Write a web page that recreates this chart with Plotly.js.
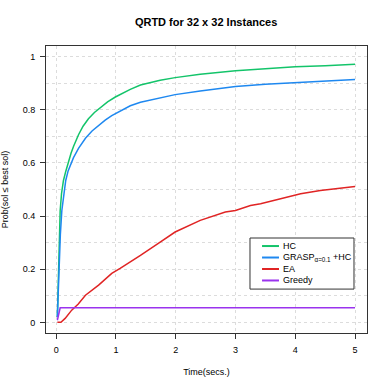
<!DOCTYPE html>
<html>
<head>
<meta charset="utf-8">
<script src="https://cdn.plot.ly/plotly-3.0.1.min.js"></script>
<style>html,body{margin:0;padding:0;background:#fff;}#chart{width:390px;height:390px;}</style>
</head>
<body>
<div id="chart"></div>
<script>
// Data
var seriesNames = ["HC", "GRASP<sub>α=0.1</sub> +HC", "EA", "Greedy"];
var seriesColors = ["#13c46a", "#1e88f0", "#e02424", "#9a33ee"];

var hcX = [0.02, 0.03, 0.04, 0.055, 0.067, 0.09, 0.122, 0.16, 0.206, 0.25, 0.29, 0.374, 0.45, 0.54, 0.64, 0.737, 0.86, 0.99, 1.07, 1.156, 1.24, 1.41, 1.74, 1.99, 2.41, 3.0, 3.5, 4.0, 4.5, 5.0];
var hcY = [0.02, 0.12, 0.234, 0.34, 0.421, 0.485, 0.534, 0.568, 0.605, 0.637, 0.662, 0.706, 0.738, 0.766, 0.79, 0.809, 0.83, 0.848, 0.858, 0.868, 0.877, 0.893, 0.911, 0.921, 0.934, 0.947, 0.955, 0.962, 0.966, 0.971];

var graspX = [0.02, 0.035, 0.05, 0.07, 0.095, 0.13, 0.16, 0.2, 0.263, 0.29, 0.374, 0.49, 0.6, 0.71, 0.82, 0.93, 1.07, 1.156, 1.24, 1.41, 1.74, 1.99, 2.41, 3.0, 3.5, 4.0, 4.5, 5.0];
var graspY = [0.02, 0.12, 0.234, 0.33, 0.421, 0.49, 0.534, 0.57, 0.605, 0.62, 0.655, 0.693, 0.72, 0.742, 0.761, 0.778, 0.796, 0.805, 0.815, 0.828, 0.846, 0.857, 0.871, 0.888, 0.896, 0.902, 0.908, 0.914];

var eaX = [0.02, 0.08, 0.15, 0.26, 0.37, 0.49, 0.71, 0.93, 1.07, 1.156, 1.41, 1.74, 1.99, 2.41, 2.83, 3.0, 3.25, 3.42, 3.75, 4.09, 4.42, 4.76, 5.0];
var eaY = [0, 0, 0.015, 0.046, 0.069, 0.102, 0.14, 0.184, 0.203, 0.215, 0.252, 0.302, 0.34, 0.384, 0.415, 0.421, 0.44, 0.446, 0.465, 0.484, 0.496, 0.506, 0.511];

var greedyX = [0.02, 0.067, 0.1, 5.0];
var greedyY = [0.008, 0.055, 0.055, 0.055];

var xTicks = [0, 1, 2, 3, 4, 5];
var yTicks = [0, 0.2, 0.4, 0.6, 0.8, 1];
var yTickLabels = ["0", "0.2", "0.4", "0.6", "0.8", "1"];

var xs = [hcX, graspX, eaX, greedyX];
var ys = [hcY, graspY, eaY, greedyY];

var traces = xs.map(function (x, i) {
  return {
    x: x, y: ys[i], type: "scatter", mode: "lines",
    name: seriesNames[i], showlegend: false,
    line: {color: seriesColors[i], width: 1.5}
  };
});

var font = "Liberation Sans, Arial, Helvetica, sans-serif";

// Manual R-style legend (compact rows)
var legX0 = 0.6355, legX1 = 0.9595, legY0 = 0.153, legY1 = 0.331;
var rowTop = 0.303, rowStep = 0.040;
var shapes = [{
  type: "rect", xref: "paper", yref: "paper",
  x0: legX0, x1: legX1, y0: legY0, y1: legY1,
  line: {color: "#333333", width: 1}, fillcolor: "#ffffff", layer: "above"
}];
var annotations = [];
seriesNames.forEach(function (n, i) {
  var yy = rowTop - i * rowStep;
  shapes.push({
    type: "line", xref: "paper", yref: "paper",
    x0: 0.673, x1: 0.7258, y0: yy, y1: yy,
    line: {color: seriesColors[i], width: 2}, layer: "above"
  });
  annotations.push({
    xref: "paper", yref: "paper", x: 0.732, y: yy,
    xanchor: "left", yanchor: "middle", showarrow: false,
    text: n, font: {family: font, size: 9, color: "#000"}
  });
});

var gridCol = "#dcdcdc";
var layout = {
  width: 390, height: 390,
  margin: {l: 46, r: 23, t: 46, b: 57},
  paper_bgcolor: "#ffffff", plot_bgcolor: "#ffffff",
  font: {family: font, size: 9, color: "#000"},
  title: {
    text: "<b>QRTD for 32 x 32 Instances</b>",
    font: {family: font, size: 11, color: "#000"},
    x: 0.5285, xanchor: "center", y: 0.943, yanchor: "middle"
  },
  xaxis: {
    range: [-0.17, 5.2], tickvals: xTicks, ticktext: xTicks.map(String),
    showline: true, mirror: true, linecolor: "#333333", linewidth: 1,
    ticks: "outside", ticklen: 5, tickcolor: "#333333", tickwidth: 1,
    showgrid: true, gridcolor: gridCol, griddash: "dot", gridwidth: 1,
    zeroline: false, tickfont: {family: font, size: 9},
    ticklabelstandoff: 3,
    title: {text: "Time(secs.)", font: {family: font, size: 9}, standoff: 14}
  },
  yaxis: {
    range: [-0.04, 1.04], tickvals: yTicks, ticktext: yTickLabels,
    showline: true, mirror: true, linecolor: "#333333", linewidth: 1,
    ticks: "outside", ticklen: 5, tickcolor: "#333333", tickwidth: 1,
    showgrid: true, gridcolor: gridCol, griddash: "dot", gridwidth: 1,
    minor: {dtick: 0.1, tick0: 0, showgrid: true, gridcolor: gridCol, griddash: "dot", gridwidth: 1, ticks: ""},
    zeroline: false, tickfont: {family: font, size: 9},
    ticklabelstandoff: 3,
    title: {text: "Prob(sol ≤ best sol)", font: {family: font, size: 9}, standoff: 12}
  },
  shapes: shapes,
  annotations: annotations,
  showlegend: false
};

Plotly.newPlot("chart", traces, layout, {staticPlot: true, displayModeBar: false});
</script>
</body>
</html>
